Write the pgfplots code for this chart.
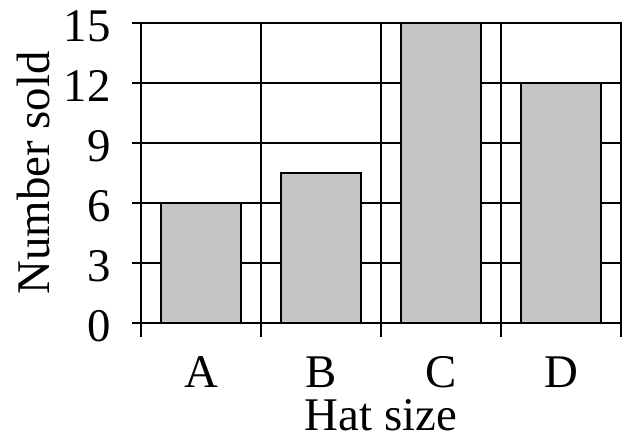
\documentclass[border=0pt]{standalone}
\usepackage{fontspec}
\setmainfont{Liberation Serif}
\usepackage{pgfplots}
\pgfplotsset{compat=1.18}
\definecolor{barfill}{RGB}{197,196,198}
\newcommand{\bigfont}{\fontsize{47}{56}\selectfont}
\begin{document}
\begin{tikzpicture}
\begin{axis}[
  scale only axis, width=480bp, height=300bp,
  xmin=-0.5, xmax=3.5, ymin=0, ymax=15,
  xtick={0,1,2,3}, xticklabels={A,B,C,D},
  minor xtick={-0.5,0.5,1.5,2.5,3.5},
  ytick={0,3,6,9,12,15},
  tick pos=left, tick align=outside,
  major tick length=9bp, minor tick length=14bp,
  major x tick style={draw=none},
  ymajorgrids, xminorgrids,
  grid style={black, line width=2.6bp},
  minor grid style={black, line width=2.6bp},
  axis line style={black, line width=2.6bp},
  tick style={black, line width=2.6bp},
  /pgf/number format/assume math mode=true,
  ticklabel style={font=\bigfont, inner sep=0pt},
  yticklabel style={anchor=base east, xshift=-21bp, yshift=-18bp},
  xticklabel style={anchor=base, yshift=-55bp},
  label style={font=\bigfont, inner sep=0pt},
  xlabel={Hat size}, ylabel={Number sold},
  xlabel style={at={([yshift=-107bp]axis description cs:0.5,0)}, anchor=base},
  ylabel style={at={([xshift=-91bp]axis description cs:0,0.5)}, anchor=base, rotate=0},
  ybar, bar width=0.6667,
  clip=false,
]
\addplot[ybar, fill=barfill, draw=black, line width=2.6bp] coordinates {(0,6) (1,7.5) (2,15) (3,12)};
\coordinate (ll) at (rel axis cs:0,0);
\coordinate (ur) at (rel axis cs:1,1);
\end{axis}
\pgfresetboundingbox
\path ([xshift=-141bp,yshift=-113bp]ll) rectangle ([xshift=11bp,yshift=23bp]ur);
\end{tikzpicture}
\end{document}
